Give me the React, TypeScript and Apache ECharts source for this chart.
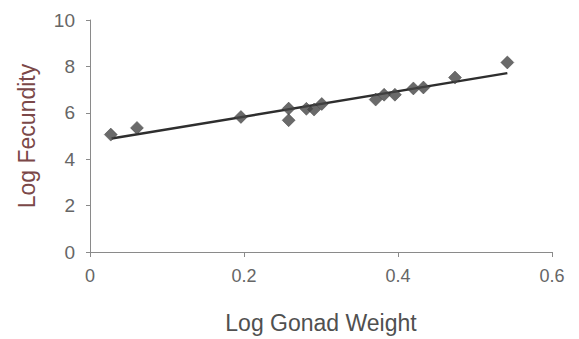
import React, { useEffect, useRef } from "react";
import * as echarts from "echarts";

const gonadWeight = [0.027, 0.061, 0.196, 0.258, 0.258, 0.281, 0.291, 0.301, 0.371, 0.382, 0.396, 0.42, 0.433, 0.474, 0.542];
const fecundity = [5.06, 5.35, 5.82, 6.18, 5.68, 6.17, 6.14, 6.38, 6.57, 6.78, 6.78, 7.05, 7.09, 7.52, 8.17];
const trendX = [0.028, 0.542];
const trendY = [4.89, 7.71];
const xTicks = [0, 0.2, 0.4, 0.6];
const yTicks = [0, 2, 4, 6, 8, 10];

export default function App() {
  const ref = useRef<HTMLDivElement>(null);
  useEffect(() => {
    if (!ref.current) return;
    const chart = echarts.init(ref.current, null, { renderer: "svg" });
    const font = "'Liberation Sans', Arial, sans-serif";
    chart.setOption({
      animation: false,
      backgroundColor: "#ffffff",
      grid: { left: 90, right: 27, top: 20, bottom: 86 },
      xAxis: {
        type: "value",
        min: xTicks[0],
        max: xTicks[xTicks.length - 1],
        interval: 0.2,
        name: "Log Gonad Weight",
        nameLocation: "middle",
        nameGap: 59,
        nameTextStyle: { color: "#505050", fontSize: 23, fontFamily: font },
        axisLine: { lineStyle: { color: "#8a8a8a", width: 1 } },
        axisTick: { show: true, length: 5, lineStyle: { color: "#8a8a8a" } },
        axisLabel: { color: "#666666", fontSize: 18, fontFamily: font, margin: 15 },
        splitLine: { show: false },
      },
      yAxis: {
        type: "value",
        min: yTicks[0],
        max: yTicks[yTicks.length - 1],
        interval: 2,
        name: "Log Fecundity",
        nameLocation: "middle",
        nameGap: 52,
        nameTextStyle: { color: "#7b4848", fontSize: 23, fontFamily: font },
        axisLine: { show: true, lineStyle: { color: "#8a8a8a", width: 1 } },
        axisTick: { show: true, length: 4, lineStyle: { color: "#8a8a8a" } },
        axisLabel: { color: "#666666", fontSize: 19, fontFamily: font, margin: 15 },
        splitLine: { show: false },
      },
      series: [
        {
          type: "line",
          data: trendX.map((x, i) => [x, trendY[i]]),
          showSymbol: false,
          symbol: "none",
          lineStyle: { color: "#2e2e2e", width: 2.5 },
          z: 2,
        },
        {
          type: "scatter",
          data: gonadWeight.map((x, i) => [x, fecundity[i]]),
          symbol: "diamond",
          symbolSize: 13,
          itemStyle: { color: "#454545", borderColor: "#303030", borderWidth: 0.5 },
          z: 3,
        },
      ],
    });
    return () => chart.dispose();
  }, []);
  return <div ref={ref} style={{ position: "fixed", left: 0, top: 0, width: 579, height: 339 }} />;
}
